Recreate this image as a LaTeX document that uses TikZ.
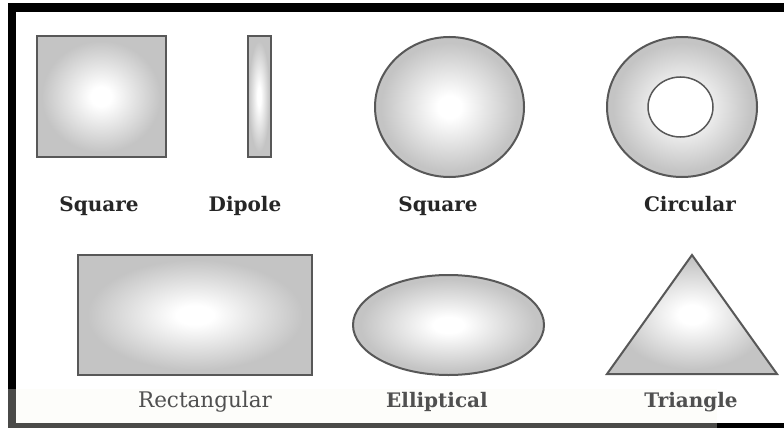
\documentclass[tikz,border=0pt]{standalone}
\usepackage{fontspec}
\setmainfont{DejaVu Serif}
\usepackage{xcolor}
\usetikzlibrary{shapes.geometric, positioning}
\definecolor{padgray}{RGB}{196,196,196}
\definecolor{padedge}{RGB}{88,88,88}
\definecolor{labelgray}{RGB}{80,80,80}
\definecolor{framegray}{RGB}{74,74,72}
\definecolor{cream}{RGB}{253,253,250}
\pgfdeclareradialshading{padglow}{\pgfpoint{0bp}{0bp}}{color(0bp)=(white); color(4bp)=(white); color(23bp)=(padgray); color(50bp)=(padgray)}

\begin{document}
\begin{tikzpicture}[x=1pt, y=-1pt,
    pad/.style={draw=padedge, line width=2pt, shading=padglow, inner sep=0pt, outer sep=0pt},
    toplabel/.style={anchor=base, font=\bfseries\fontsize{20}{24}\selectfont, text=black!85},
    botlabel/.style={anchor=base, font=\fontsize{21.5}{26}\selectfont, text=labelgray}]
        \useasboundingbox (0,0) rectangle (784,428);
        \fill[white] (0,0) rectangle (784,428);

        % Frame
        \fill[cream] (16,389) rectangle (717,423);
        \fill[black] (8,3) rectangle (784,12);
        \fill[black] (8,3) rectangle (16,389);
        \fill[framegray] (8,389) rectangle (16,428);
        \fill[framegray] (8,423) rectangle (717,428);
        \fill[black] (717,423) rectangle (784,428);

        % Top row of pads
        \node[pad, minimum width=129pt, minimum height=121pt] (sqpad) at (101,96.5) {};
        \node[pad, minimum width=23pt, minimum height=121pt] (dipole) at (259,96.5) {};
        \node[pad, ellipse, minimum width=149pt, minimum height=140pt] (roundpad) at (449.5,107) {};
        \node[pad, ellipse, minimum width=150pt, minimum height=140pt] (ringpad) at (682,107) {};
        \node[ellipse, draw=padedge, line width=1.5pt, fill=white, minimum width=65pt, minimum height=60pt] (ringhole) at (680.5,107) {};

        % Bottom row of pads
        \node[pad, minimum width=234pt, minimum height=120pt] (rectpad) at (195,315) {};
        \node[pad, ellipse, minimum width=191pt, minimum height=100pt] (ellpad) at (448.5,325) {};
        \coordinate (tritop) at (692,255);
        \coordinate (triright) at (777,374);
        \coordinate (trileft) at (607,374);
        \draw[pad] (tritop) -- (triright) -- (trileft) -- cycle;

        % Labels
        \node[toplabel] (sqlabel) at (99,211) {Square};
        \node[toplabel] (dipolelabel) at (245,211) {Dipole};
        \node[toplabel] (roundlabel) at (438,211) {Square};
        \node[toplabel] (ringlabel) at (690,211) {Circular};
        \node[botlabel] (rectlabel) at (205,407) {Rectangular};
        \node[botlabel, font=\bfseries\fontsize{20}{24}\selectfont] (elllabel) at (437,407) {Elliptical};
        \node[botlabel, font=\bfseries\fontsize{20}{24}\selectfont] (trilabel) at (691,407) {Triangle};
\end{tikzpicture}
\end{document}
